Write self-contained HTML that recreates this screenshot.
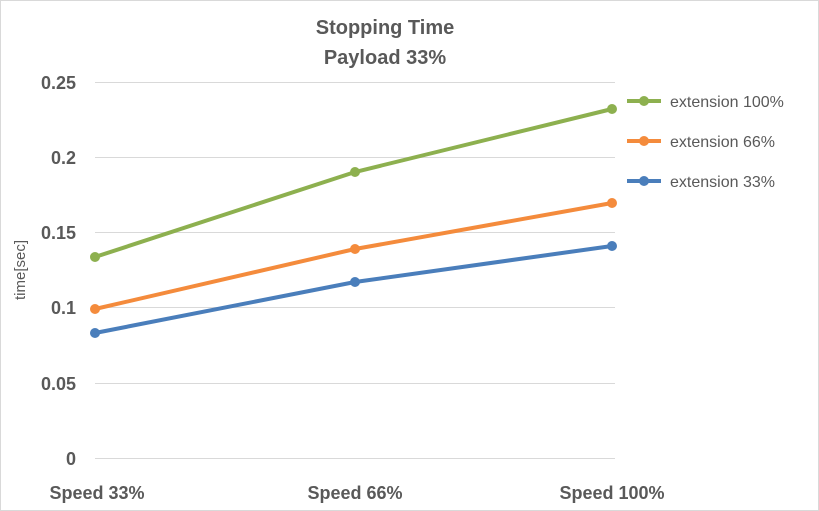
<!DOCTYPE html>
<html><head><style>
body{margin:0;background:#fff;}
svg{display:block;font-family:"Liberation Sans",sans-serif;}
</style></head><body>
<svg width="819" height="511" viewBox="0 0 819 511">
<rect x="0.5" y="0.5" width="818" height="510" fill="#fff" stroke="#d9d9d9"/>
<text x="385" y="34" text-anchor="middle" font-size="20" font-weight="bold" fill="#595959">Stopping Time</text>
<text x="385" y="64" text-anchor="middle" font-size="20" font-weight="bold" fill="#595959">Payload 33%</text>
<g stroke="#d9d9d9" stroke-width="1">
<line x1="95" x2="615" y1="82.5" y2="82.5"/>
<line x1="95" x2="615" y1="157.5" y2="157.5"/>
<line x1="95" x2="615" y1="232.5" y2="232.5"/>
<line x1="95" x2="615" y1="307.5" y2="307.5"/>
<line x1="95" x2="615" y1="383.5" y2="383.5"/>
<line x1="95" x2="615" y1="458.5" y2="458.5"/>
</g>
<g font-size="18" font-weight="bold" fill="#595959" text-anchor="end">
<text x="76" y="89">0.25</text>
<text x="76" y="164">0.2</text>
<text x="76" y="239">0.15</text>
<text x="76" y="314">0.1</text>
<text x="76" y="390">0.05</text>
<text x="76" y="465">0</text>
</g>
<text transform="translate(25,270) rotate(-90)" text-anchor="middle" font-size="15" fill="#595959">time[sec]</text>
<g font-size="18" font-weight="bold" fill="#595959" text-anchor="middle">
<text x="97" y="499">Speed 33%</text>
<text x="355" y="499">Speed 66%</text>
<text x="612" y="499">Speed 100%</text>
</g>
<g stroke-width="4" fill="none" stroke-linecap="round">
<polyline points="95,257 355,172 612,109" stroke="#8db04f"/>
<polyline points="95,309 355,249 612,203" stroke="#f48b3c"/>
<polyline points="95,333 355,282 612,246" stroke="#4a7ebb"/>
</g>
<g fill="#8db04f"><circle cx="95" cy="257" r="5"/><circle cx="355" cy="172" r="5"/><circle cx="612" cy="109" r="5"/></g>
<g fill="#f48b3c"><circle cx="95" cy="309" r="5"/><circle cx="355" cy="249" r="5"/><circle cx="612" cy="203" r="5"/></g>
<g fill="#4a7ebb"><circle cx="95" cy="333" r="5"/><circle cx="355" cy="282" r="5"/><circle cx="612" cy="246" r="5"/></g>
<g stroke-width="4">
<line x1="627" x2="661" y1="101" y2="101" stroke="#8db04f"/>
<line x1="627" x2="661" y1="141" y2="141" stroke="#f48b3c"/>
<line x1="627" x2="661" y1="181" y2="181" stroke="#4a7ebb"/>
</g>
<circle cx="644" cy="101" r="5" fill="#8db04f"/>
<circle cx="644" cy="141" r="5" fill="#f48b3c"/>
<circle cx="644" cy="181" r="5" fill="#4a7ebb"/>
<g font-size="16" fill="#595959">
<text x="670" y="107">extension 100%</text>
<text x="670" y="147">extension 66%</text>
<text x="670" y="187">extension 33%</text>
</g>
</svg>
</body></html>
